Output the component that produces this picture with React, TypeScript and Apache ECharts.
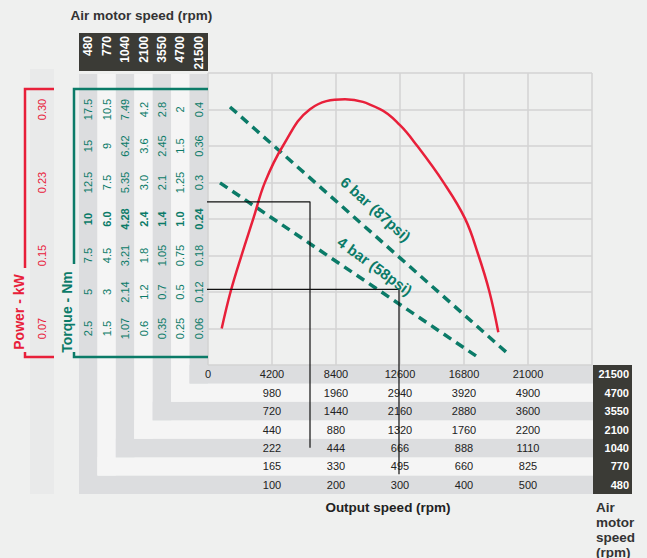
import React, { useEffect, useRef } from "react";
import * as echarts from "echarts";

// ---------- data ----------
const airMotorSpeeds = ["480", "770", "1040", "2100", "3550", "4700", "21500"];

// torque tick labels (Nm), ticks 1..7 from bottom, per air motor speed
const torque480 = ["2.5", "5", "7.5", "10", "12.5", "15", "17.5"];
const torque770 = ["1.5", "3", "4.5", "6.0", "7.5", "9", "10.5"];
const torque1040 = ["1.07", "2.14", "3.21", "4.28", "5.35", "6.42", "7.49"];
const torque2100 = ["0.6", "1.2", "1.8", "2.4", "3.0", "3.6", "4.2"];
const torque3550 = ["0.35", "0.7", "1.05", "1.4", "2.1", "2.45", "2.8"];
const torque4700 = ["0.25", "0.5", "0.75", "1.0", "1.25", "1.5", "2"];
const torque21500 = ["0.06", "0.12", "0.18", "0.24", "0.3", "0.36", "0.4"];

// power tick labels (kW) at ticks 0..8
const powerLabels = ["", "0.07", "", "0.15", "", "0.23", "", "0.30", ""];

// output speed tick labels (rpm), ticks 0..6, per air motor speed
const speed480 = ["", "100", "200", "300", "400", "500", ""];
const speed770 = ["", "165", "330", "495", "660", "825", ""];
const speed1040 = ["", "222", "444", "666", "888", "1110", ""];
const speed2100 = ["", "440", "880", "1320", "1760", "2200", ""];
const speed3550 = ["", "720", "1440", "2160", "2880", "3600", ""];
const speed4700 = ["", "980", "1960", "2940", "3920", "4900", ""];
const speed21500 = ["0", "4200", "8400", "12600", "16800", "21000", ""];

const X_MAX = 25200;
const X_STEP = 4200;
const Y_MAX = 8;

// power curve (x = output speed on the 21500 rpm scale, y = tick units)
const powerCurve: number[][] = [
  [899, 1.0], [1490, 2.02], [2212, 3.02], [2973, 4.01], [3741, 5.01],
  [4942, 6.02], [6694, 7.01], [8991, 7.28],
  [11288, 7.01], [12600, 6.57], [13696, 6.02], [15442, 5.01],
  [16870, 4.01], [17738, 3.02], [18460, 2.02], [19051, 0.9],
];
const bar6: number[][] = [[1444, 7.07], [19602, 0.34]];
const bar4: number[][] = [[787, 4.99], [17588, 0.25]];
// pressure labels: [x, y, rotation in degrees]
const pressureLabelText = ["6 bar (87psi)", "4 bar (58psi)"];
const pressureLabelPos: number[][] = [[11004, 4.27, -42], [10950, 2.71, -36]];
const guide1040: number[][] = [[-5440, 4.47], [6694, 4.47], [6694, -2.27]];
const guide770: number[][] = [[-6654, 2.07], [12534, 2.07], [12534, -2.99]];

// ---------- style / layout ----------
const TEAL = "#0b7b68";
const RED = "#e8203a";
const DARK = "#3b3b36";
const FONT = '"Liberation Sans", Arial, Helvetica, sans-serif';
const PL = 208, PT = 73, PW = 384, PH = 292;
const PB = PT + PH; // 365
const BX = 79; // first band left
const BW = 129 / 7;
const BAND_TOP = 74;
const RIGHT_X = 593;

const torqueCols = [torque480, torque770, torque1040, torque2100, torque3550, torque4700, torque21500];
const speedRows = [speed480, speed770, speed1040, speed2100, speed3550, speed4700, speed21500];

export default function App() {
  const ref = useRef<HTMLDivElement>(null);
  useEffect(() => {
    if (!ref.current) return;
    const chart = echarts.init(ref.current, null, { renderer: "svg" });

    const hiddenParts = {
      axisLine: { show: false },
      axisTick: { show: false },
      splitLine: { show: false },
    };

    const torqueAxes = torqueCols.map((arr, k) => ({
      type: "value",
      gridIndex: 0,
      position: "left",
      min: 0,
      max: Y_MAX,
      interval: 1,
      offset: PL - (BX + BW * (k + 0.5)),
      ...hiddenParts,
      axisLabel: {
        rotate: 90,
        margin: 0,
        align: "center",
        verticalAlign: "middle",
        color: TEAL,
        fontSize: 11,
        fontFamily: FONT,
        formatter: (v: number) => {
          const i = Math.round(v);
          if (i < 1 || i > 7) return "";
          const s = arr[i - 1];
          return i === 4 ? `{b|${s}}` : s;
        },
        rich: { b: { fontWeight: "bold", color: TEAL, fontSize: 11, fontFamily: FONT } },
      },
    }));

    const powerAxis = {
      type: "value",
      gridIndex: 0,
      position: "left",
      min: 0,
      max: Y_MAX,
      interval: 1,
      offset: PL - 42,
      ...hiddenParts,
      axisLabel: {
        rotate: 90,
        margin: 0,
        align: "center",
        verticalAlign: "middle",
        color: RED,
        fontSize: 11,
        fontFamily: FONT,
        formatter: (v: number) => powerLabels[Math.round(v)] || "",
      },
    };

    const speedAxes = speedRows.map((arr, k) => ({
      type: "value",
      gridIndex: 0,
      position: "bottom",
      min: 0,
      max: X_MAX,
      interval: X_STEP,
      offset: BW * (6 - k) + BW / 2,
      ...hiddenParts,
      axisLabel: {
        margin: 0,
        align: "center",
        verticalAlign: "middle",
        color: "#222",
        fontSize: 11,
        fontFamily: FONT,
        showMinLabel: true,
        showMaxLabel: true,
        formatter: (v: number) => arr[Math.round(v / X_STEP)] || "",
      },
    }));

    const bands: any[] = [];
    airMotorSpeeds.forEach((_, k) => {
      const x0 = BX + BW * k;
      const y0 = PB + BW * (6 - k);
      const fill = k % 2 === 0 ? "#dcdddf" : "#f5f5f5";
      bands.push({ type: "rect", z: -5, shape: { x: x0, y: BAND_TOP, width: BW, height: y0 + BW - BAND_TOP }, style: { fill } });
      bands.push({ type: "rect", z: -5, shape: { x: x0, y: y0, width: RIGHT_X - x0, height: BW }, style: { fill } });
    });

    const option: any = {
      animation: false,
      backgroundColor: "#eff0ef",
      textStyle: { fontFamily: FONT },
      grid: [
        { left: PL, top: PT, width: PW, height: PH, containLabel: false, outerBoundsMode: "none" },
        { left: BX, top: 0, width: 129, height: 33, containLabel: false, outerBoundsMode: "none" },
        { left: 632, top: PB, width: 10, height: 129, containLabel: false, outerBoundsMode: "none" },
      ],
      xAxis: [
        {
          type: "value", gridIndex: 0, min: 0, max: X_MAX, interval: X_STEP,
          axisLine: { show: false }, axisTick: { show: false }, axisLabel: { show: false },
          splitLine: { show: true, lineStyle: { color: "#d3d3d3", width: 1.5 } },
        },
        ...speedAxes,
        {
          type: "category", gridIndex: 1, position: "bottom", data: airMotorSpeeds,
          ...hiddenParts,
          axisLabel: {
            rotate: 90, margin: 3, align: "right", verticalAlign: "middle",
            color: "#fff", fontWeight: "bold", fontSize: 12, fontFamily: FONT, interval: 0,
          },
        },
        { type: "value", gridIndex: 2, show: false },
      ],
      yAxis: [
        {
          type: "value", gridIndex: 0, min: 0, max: Y_MAX, interval: 1,
          axisLine: { show: false }, axisTick: { show: false }, axisLabel: { show: false },
          splitLine: { show: true, lineStyle: { color: "#d3d3d3", width: 1.5 } },
        },
        ...torqueAxes,
        powerAxis,
        { type: "value", gridIndex: 1, show: false },
        {
          type: "category", gridIndex: 2, position: "left", data: airMotorSpeeds,
          ...hiddenParts,
          axisLabel: {
            margin: 3, align: "right", verticalAlign: "middle",
            color: "#fff", fontWeight: "bold", fontSize: 11, fontFamily: FONT, interval: 0,
          },
        },
      ],
      series: [
        {
          name: "Power", type: "line", xAxisIndex: 0, yAxisIndex: 0, data: powerCurve,
          smooth: 0.4, showSymbol: false, lineStyle: { color: RED, width: 2.5 }, z: 4,
        },
        {
          name: "6 bar", type: "line", xAxisIndex: 0, yAxisIndex: 0, data: bar6,
          showSymbol: false, lineStyle: { color: TEAL, width: 3.5, type: [9, 6] }, z: 3,
        },
        {
          name: "4 bar", type: "line", xAxisIndex: 0, yAxisIndex: 0, data: bar4,
          showSymbol: false, lineStyle: { color: TEAL, width: 3.5, type: [9, 6] }, z: 3,
        },
        {
          name: "guide1040", type: "line", xAxisIndex: 0, yAxisIndex: 0, data: guide1040,
          showSymbol: false, clip: false, lineStyle: { color: "#111", width: 1.2 }, z: 5,
        },
        {
          name: "guide770", type: "line", xAxisIndex: 0, yAxisIndex: 0, data: guide770,
          showSymbol: false, clip: false, lineStyle: { color: "#111", width: 1.2 }, z: 5,
        },
        {
          name: "pressure labels", type: "custom", xAxisIndex: 0, yAxisIndex: 0,
          data: pressureLabelPos, z: 6, silent: true,
          renderItem: (params: any, api: any) => {
            const p = api.coord([api.value(0), api.value(1)]);
            return {
              type: "text",
              x: p[0],
              y: p[1],
              rotation: (api.value(2) * Math.PI) / 180,
              style: {
                text: pressureLabelText[params.dataIndex],
                fill: TEAL,
                font: `bold 15px ${FONT}`,
                align: "center",
                verticalAlign: "middle",
              },
            };
          },
        },
      ],
      graphic: [
        // power column background
        { type: "rect", z: -6, shape: { x: 30, y: 69, width: 24, height: 425 }, style: { fill: "#e9eaea" } },
        ...bands,
        // dark header blocks
        { type: "rect", z: -4, shape: { x: BX, y: 33, width: 129, height: 38 }, style: { fill: DARK } },
        { type: "rect", z: -4, shape: { x: RIGHT_X, y: PB, width: 39, height: 129 }, style: { fill: DARK } },
        // brackets
        { type: "polyline", z: 6, shape: { points: [[54, 89], [25, 89], [25, 268]] }, style: { stroke: RED, lineWidth: 2.5, fill: null } },
        { type: "polyline", z: 6, shape: { points: [[25, 352], [25, 357], [54, 357]] }, style: { stroke: RED, lineWidth: 2.5, fill: null } },
        { type: "polyline", z: 6, shape: { points: [[PL, 89], [74, 89], [74, 264]] }, style: { stroke: TEAL, lineWidth: 2.5, fill: null } },
        { type: "polyline", z: 6, shape: { points: [[74, 352], [74, 357], [PL, 357]] }, style: { stroke: TEAL, lineWidth: 2.5, fill: null } },
        // rotated axis names
        {
          type: "text", z: 6, x: 18.5, y: 312, rotation: Math.PI / 2,
          style: { text: "Power - kW", fill: RED, font: `bold 14px ${FONT}`, align: "center", verticalAlign: "middle" },
        },
        {
          type: "text", z: 6, x: 67, y: 312, rotation: Math.PI / 2,
          style: { text: "Torque - Nm", fill: TEAL, font: `bold 14px ${FONT}`, align: "center", verticalAlign: "middle" },
        },
        // titles
        {
          type: "text", z: 6, x: 70.5, y: 15,
          style: { text: "Air motor speed (rpm)", fill: "#333", font: `bold 13.5px ${FONT}`, align: "left", verticalAlign: "middle" },
        },
        {
          type: "text", z: 6, x: 388, y: 507,
          style: { text: "Output speed (rpm)", fill: "#222", font: `bold 13.5px ${FONT}`, align: "center", verticalAlign: "middle" },
        },
        {
          type: "text", z: 6, x: 596, y: 499.5,
          style: { text: "Air\nmotor\nspeed\n(rpm)", fill: "#333", font: `bold 13.5px ${FONT}`, lineHeight: 15, align: "left", verticalAlign: "top" },
        },
      ],
    };

    chart.setOption(option);
    return () => chart.dispose();
  }, []);

  return (
    <div
      ref={ref}
      style={{ position: "fixed", left: 0, top: 0, width: 647, height: 558 }}
    />
  );
}
